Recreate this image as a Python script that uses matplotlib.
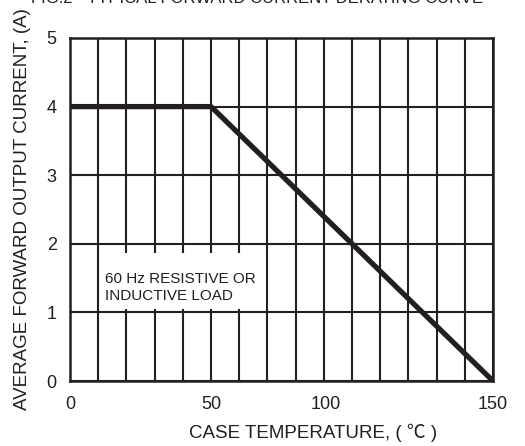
import matplotlib
matplotlib.use("Agg")
import matplotlib.pyplot as plt
from matplotlib.patches import Rectangle
from matplotlib.transforms import ScaledTranslation
import numpy as np

plt.rcParams['font.family'] = ['Liberation Sans', 'Noto Sans CJK SC', 'DejaVu Sans']

# Data
temp = [0, 50, 150]          # case temperature, °C
current = [4, 4, 0]          # average forward output current, A
x_ticks = [0, 50, 100, 150]
y_ticks = [0, 1, 2, 3, 4, 5]
x_grid = list(range(0, 151, 10))

title = "FIG.2 - TYPICAL FORWARD CURRENT DERATING CURVE"
xlabel = "CASE TEMPERATURE, ( \u2103 )"
ylabel = "AVERAGE FORWARD OUTPUT CURRENT, (A)"
note = "60 Hz RESISTIVE OR\nINDUCTIVE LOAD"

ink = '#231f20'

fig = plt.figure(figsize=(5.25, 4.46), dpi=100)
ax = fig.add_axes([70/525, 65/446, 423/525, 343/446])

ax.set_xlim(0, 150)
ax.set_ylim(0, 5)

ax.set_xticks(x_ticks)
ax.set_xticks(x_grid, minor=True)
ax.set_yticks(y_ticks)
ax.tick_params(which='both', length=0, labelsize=13, colors=ink)
ax.tick_params(axis='x', pad=11)
ax.tick_params(axis='y', pad=9.5)
ax.grid(True, which='both', axis='x', color=ink, linewidth=1.5)
ax.grid(True, which='major', axis='y', color=ink, linewidth=1.5)
ax.set_axisbelow(True)
for s in ax.spines.values():
    s.set_color(ink)
    s.set_linewidth(1.8)

# shift the "100" label as in the reference
for lab in ax.get_xticklabels():
    if lab.get_text() == '100':
        lab.set_transform(lab.get_transform() + ScaledTranslation(-0.26, 0, fig.dpi_scale_trans))

ax.plot(temp, current, color=ink, linewidth=3.8, solid_capstyle='butt', zorder=5)

# white note box
ax.add_patch(Rectangle((10.6, 1.05), 58.8, 0.82, facecolor='white', edgecolor='none', zorder=3))
ax.text(12.5, 1.36, note, fontsize=11, color=ink, va='center', ha='left',
        linespacing=1.25, zorder=4)

ax.set_xlabel(xlabel, fontsize=13.5, color=ink, labelpad=5)
ax.xaxis.set_label_coords(0.574, -0.125)
ax.set_ylabel(ylabel, fontsize=13.5, color=ink, labelpad=11)

fig.text(0.49, 443.3/446, title, fontsize=12, color=ink, ha='center', va='baseline')

fig.savefig('out.png', dpi=100)
